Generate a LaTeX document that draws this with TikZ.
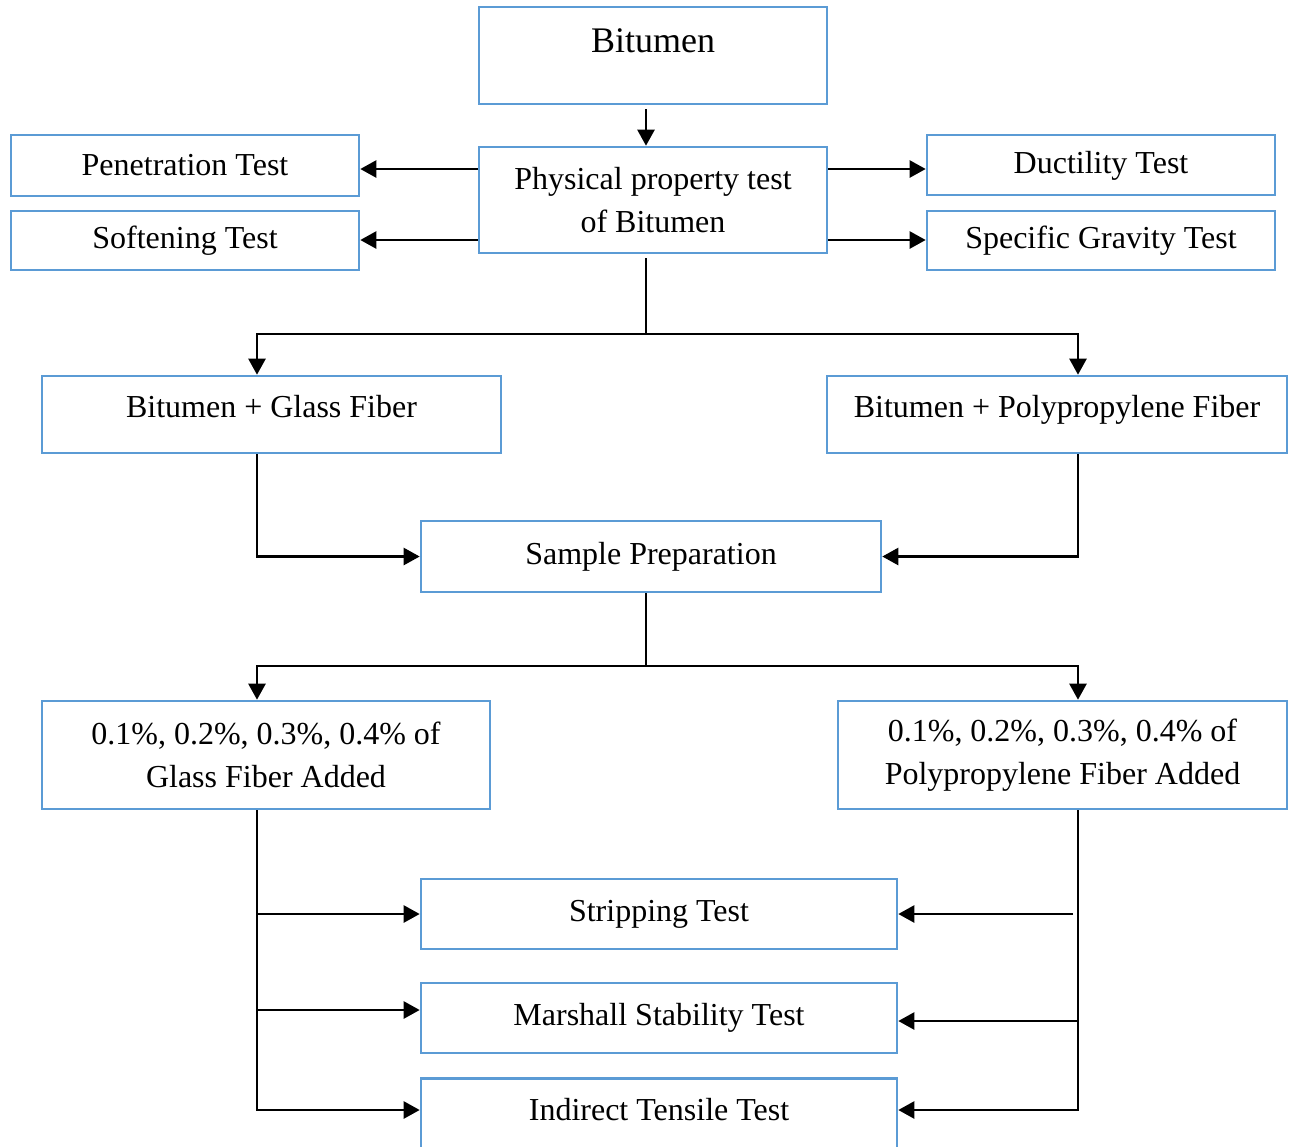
\documentclass[tikz,border=0pt]{standalone}
\usepackage{fontspec}
\setmainfont{Liberation Serif}
\usetikzlibrary{arrows.meta}
\definecolor{boxblue}{RGB}{91,155,213}

\begin{document}
\begin{tikzpicture}[x=0.5pt,y=-0.5pt,>={Triangle[length=8pt,width=8.5pt]},
  font=\fontsize{16}{21.5}\selectfont,
  box/.style={draw=boxblue,line width=1.3pt,align=center,inner sep=0pt},
  link/.style={line width=1.2pt}]
\useasboundingbox (0,0) rectangle (1292,1147);

\node[box,minimum width=174pt,text height=22.5pt,text depth=26pt,font=\fontsize{18}{22}\selectfont] (bit) at (653,55.5) {Bitumen};
\node[box,minimum width=174pt,minimum height=53pt] (phys) at (653,200) {Physical property test\\of Bitumen};
\node[box,minimum width=174pt,minimum height=30.5pt] (pen)  at (185,165.5)  {Penetration Test};
\node[box,minimum width=174pt,minimum height=29.5pt] (soft) at (185,240.5)  {Softening Test};
\node[box,minimum width=174pt,minimum height=30pt,text height=11pt,text depth=3pt] (duct) at (1101,165) {Ductility Test};
\node[box,minimum width=174pt,minimum height=29.5pt] (spec) at (1101,240.5) {Specific Gravity Test};

\node[box,minimum width=229.5pt,minimum height=38.5pt,text height=11pt,text depth=8pt] (glass) at (271.5,414.5) {Bitumen + Glass Fiber};
\node[box,minimum width=230pt,minimum height=38.5pt,text height=11pt,text depth=8pt]   (pp)    at (1057,414.5)  {Bitumen + Polypropylene Fiber};
\node[box,minimum width=230pt,minimum height=35.5pt] (sample) at (651,556.5) {Sample Preparation};

\node[box,minimum width=224pt,minimum height=54pt]   (glassadd) at (266,755)    {0.1\%, 0.2\%, 0.3\%, 0.4\% of\\Glass Fiber Added};
\node[box,minimum width=224.5pt,minimum height=54pt] (ppadd)    at (1062.5,755) {0.1\%, 0.2\%, 0.3\%, 0.4\% of\\Polypropylene Fiber Added};

\node[box,minimum width=238pt,minimum height=35pt] (strip) at (659,914)  {Stripping Test};
\node[box,minimum width=238pt,minimum height=35pt] (marsh) at (659,1018) {Marshall Stability Test};
\node[box,minimum width=238pt,anchor=north,text height=21pt,text depth=25pt] (indir) at (659,1077) {Indirect Tensile Test};

% trunk lines
\coordinate (lx) at (257,0);
\coordinate (mx) at (646,0);
\coordinate (rx) at (1078,0);
\coordinate (rs) at (1073,0);
\coordinate (j1) at (646,334);
\coordinate (j2) at (646,666);
\coordinate (t1) at (0,169);
\coordinate (t2) at (0,240);
\coordinate (m1) at (0,1010);
\coordinate (m2) at (0,1021);

\draw[link,->,shorten <=2pt] (mx |- bit.south) -- (mx |- phys.north);
\draw[link,->] (phys.west |- t1) -- (pen.east |- t1);
\draw[link,->] (phys.west |- t2) -- (soft.east |- t2);
\draw[link,->] (phys.east |- t1) -- (duct.west |- t1);
\draw[link,->] (phys.east |- t2) -- (spec.west |- t2);

\draw[link,shorten <=2pt] (mx |- phys.south) -- (j1);
\draw[link,->] (j1) -| (lx |- glass.north);
\draw[link,->] (j1) -| (rx |- pp.north);
\draw[link,->] (lx |- glass.south) |- (sample.west);
\draw[link,->] (rx |- pp.south) |- (sample.east);

\draw[link] (mx |- sample.south) -- (j2);
\draw[link,->] (j2) -| (lx |- glassadd.north);
\draw[link,->] (j2) -| (rx |- ppadd.north);

% tests
\draw[link,->] (lx |- glassadd.south) |- ([yshift=-16.5pt]indir.north west);
\draw[link,->] (lx |- strip.west) -- (strip.west);
\draw[link,->] (lx |- m1) -- (marsh.west |- m1);
\draw[link,->] (rx |- ppadd.south) |- ([yshift=-16.5pt]indir.north east);
\draw[link,->] (rs |- strip.east) -- (strip.east);
\draw[link,->] (rx |- m2) -- (marsh.east |- m2);
\end{tikzpicture}
\end{document}
